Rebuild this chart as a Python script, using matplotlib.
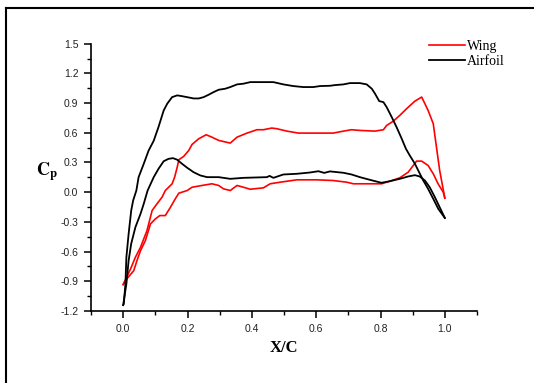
import matplotlib
matplotlib.use('Agg')
import matplotlib.pyplot as plt
from matplotlib.lines import Line2D
from matplotlib.ticker import MultipleLocator, FixedLocator

plt.rcParams['mathtext.fontset'] = 'stix'

# Airfoil, upper branch (suction side)
airfoil_up_x = [0, 0.002, 0.007, 0.01, 0.017, 0.025, 0.031, 0.041, 0.048, 0.064,
                0.079, 0.095, 0.11, 0.126, 0.137, 0.152, 0.168, 0.183, 0.199, 0.219,
                0.235, 0.25, 0.266, 0.281, 0.297, 0.317, 0.333, 0.354, 0.374, 0.395,
                0.43, 0.467, 0.498, 0.529, 0.56, 0.591, 0.612, 0.643, 0.659, 0.685,
                0.705, 0.736, 0.757, 0.773, 0.783, 0.796, 0.809, 0.819, 0.835, 0.85,
                0.866, 0.879, 0.891, 0.907, 0.92, 0.933, 0.948, 0.964, 0.98, 1.0]
airfoil_up_y = [-1.14, -1.128, -0.926, -0.657, -0.42, -0.185, -0.084, 0.017, 0.152, 0.287,
                0.42, 0.52, 0.66, 0.826, 0.894, 0.96, 0.978, 0.97, 0.96, 0.947,
                0.947, 0.96, 0.985, 1.011, 1.035, 1.045, 1.062, 1.089, 1.096, 1.112,
                1.112, 1.112, 1.089, 1.072, 1.062, 1.062, 1.072, 1.075, 1.082, 1.089,
                1.102, 1.102, 1.089, 1.045, 0.995, 0.92, 0.91, 0.86, 0.758, 0.657,
                0.54, 0.439, 0.371, 0.287, 0.202, 0.118, 0.034, -0.067, -0.17, -0.26]

# Airfoil, lower branch
airfoil_lo_x = [0, 0.01, 0.017, 0.025, 0.038, 0.054, 0.064, 0.076, 0.095, 0.11,
                0.126, 0.141, 0.155, 0.168, 0.183, 0.199, 0.219, 0.24, 0.261, 0.297,
                0.333, 0.374, 0.447, 0.455, 0.467, 0.498, 0.54, 0.581, 0.607, 0.625,
                0.643, 0.685, 0.71, 0.736, 0.767, 0.803, 0.829, 0.86, 0.886, 0.907,
                0.922, 0.938, 0.953, 0.969, 0.984, 1.0]
airfoil_lo_y = [-1.14, -0.926, -0.69, -0.52, -0.354, -0.218, -0.117, 0.017, 0.152, 0.237,
                0.313, 0.337, 0.344, 0.328, 0.287, 0.247, 0.202, 0.169, 0.152, 0.152,
                0.135, 0.145, 0.152, 0.165, 0.145, 0.179, 0.186, 0.199, 0.212, 0.195,
                0.21, 0.196, 0.179, 0.152, 0.125, 0.095, 0.111, 0.135, 0.159, 0.172,
                0.159, 0.118, 0.05, -0.05, -0.152, -0.26]

# Wing, upper branch
wing_up_x = [0, 0.023, 0.038, 0.054, 0.074, 0.09, 0.105, 0.121, 0.131, 0.152,
             0.16, 0.168, 0.173, 0.188, 0.204, 0.214, 0.235, 0.258, 0.276, 0.297,
             0.333, 0.354, 0.385, 0.416, 0.436, 0.462, 0.478, 0.509, 0.545, 0.612,
             0.653, 0.685, 0.71, 0.736, 0.783, 0.809, 0.819, 0.84, 0.86, 0.881,
             0.907, 0.928, 0.938, 0.948, 0.964, 0.974, 0.984, 1.0]
wing_up_y = [-0.933, -0.775, -0.657, -0.556, -0.388, -0.185, -0.118, -0.05, 0.017, 0.084,
             0.152, 0.253, 0.328, 0.361, 0.422, 0.482, 0.54, 0.58, 0.556, 0.523,
             0.496, 0.556, 0.597, 0.631, 0.631, 0.648, 0.641, 0.617, 0.597, 0.597,
             0.597, 0.617, 0.631, 0.624, 0.617, 0.631, 0.674, 0.718, 0.776, 0.843,
             0.92, 0.961, 0.894, 0.826, 0.692, 0.455, 0.219, -0.06]

# Wing, lower branch
wing_lo_x = [0, 0.007, 0.033, 0.043, 0.054, 0.069, 0.085, 0.1, 0.114, 0.131,
             0.147, 0.162, 0.173, 0.199, 0.214, 0.245, 0.276, 0.297, 0.312, 0.333,
             0.354, 0.374, 0.395, 0.436, 0.457, 0.488, 0.54, 0.602, 0.653, 0.695,
             0.716, 0.803, 0.829, 0.86, 0.886, 0.902, 0.912, 0.928, 0.948, 0.964,
             0.979, 0.995, 1.0]
wing_lo_y = [-0.933, -0.893, -0.792, -0.69, -0.59, -0.489, -0.32, -0.27, -0.236, -0.236,
             -0.152, -0.067, -0.01, 0.017, 0.05, 0.068, 0.085, 0.068, 0.034, 0.017,
             0.068, 0.05, 0.03, 0.044, 0.085, 0.101, 0.125, 0.125, 0.118, 0.101,
             0.085, 0.085, 0.111, 0.145, 0.202, 0.27, 0.314, 0.314, 0.27, 0.186,
             0.085, 0.0, -0.06]

x_ticks = [0.0, 0.2, 0.4, 0.6, 0.8, 1.0]
y_ticks = [-1.2, -0.9, -0.6, -0.3, 0.0, 0.3, 0.6, 0.9, 1.2, 1.5]

fig = plt.figure(figsize=(5.34, 3.83), dpi=100)
ax = fig.add_axes([91 / 534, 1 - 311 / 383, (477 - 91) / 534, (311 - 43.7) / 383])

ax.plot(wing_up_x, wing_up_y, color='#ff0000', lw=1.2, label='Wing')
ax.plot(wing_lo_x, wing_lo_y, color='#ff0000', lw=1.2)
ax.plot(airfoil_up_x, airfoil_up_y, color='black', lw=1.3, label='Airfoil')
ax.plot(airfoil_lo_x, airfoil_lo_y, color='black', lw=1.3)

ax.set_xlim(-0.1, 1.1)
ax.set_ylim(-1.2, 1.5)
ax.spines['top'].set_visible(False)
ax.spines['right'].set_visible(False)
for s in ('left', 'bottom'):
    ax.spines[s].set_linewidth(1.2)

ax.xaxis.set_major_locator(FixedLocator(x_ticks))
ax.xaxis.set_minor_locator(MultipleLocator(0.1))
ax.yaxis.set_major_locator(FixedLocator(y_ticks))
ax.yaxis.set_minor_locator(MultipleLocator(0.15))
ax.set_xticklabels(['%.1f' % v for v in x_ticks])
ax.set_yticklabels(['%.1f' % v for v in y_ticks])
ax.tick_params(which='major', direction='out', length=5, width=1.1,
               labelsize=7.5, pad=4)
ax.tick_params(which='minor', direction='out', length=3, width=1.0)
for lab in ax.get_xticklabels() + ax.get_yticklabels():
    lab.set_family('Liberation Sans')
    lab.set_color('#222222')

ax.set_xlabel('X/C', family='Liberation Serif', fontweight='bold', fontsize=12, labelpad=5)
fig.text(36 / 534, 1 - 172 / 383, r'$\mathbf{C}_\mathbf{p}$', fontsize=13,
         ha='left', va='center')

leg = ax.legend(loc='upper left', bbox_to_anchor=(419 / 534, 1 - 30 / 383),
                bbox_transform=fig.transFigure, frameon=False,
                prop={'family': 'Liberation Serif', 'size': 10},
                handlelength=2.6, handletextpad=0.15, labelspacing=0.15,
                borderpad=0.2)

# outer frame, clipped at right and bottom like the source image
fig.add_artist(Line2D([6 / 534, 6 / 534], [0, 1 - 8 / 383], color='black', lw=1.5,
                      transform=fig.transFigure))
fig.add_artist(Line2D([6 / 534, 1], [1 - 8 / 383, 1 - 8 / 383], color='black', lw=1.5,
                      transform=fig.transFigure))

fig.savefig('out.png', dpi=100)
